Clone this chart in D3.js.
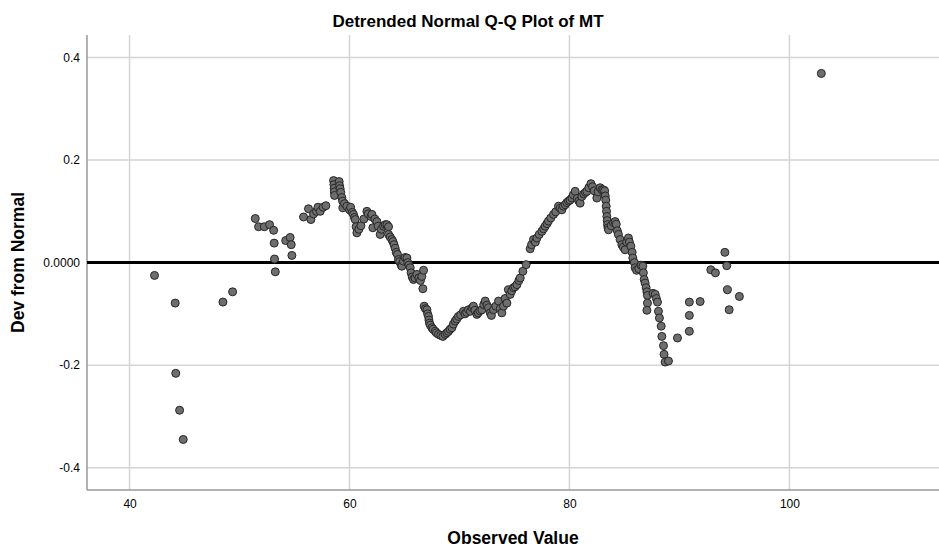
<!DOCTYPE html>
<html>
<head>
<meta charset="utf-8">
<script src="https://cdn.jsdelivr.net/npm/d3@7"></script>
<style>
  body { margin: 0; background: #fff; }
  text { font-family: "Liberation Sans", Arial, sans-serif; fill: #000; }
</style>
</head>
<body>
<div id="chart"></div>
<script>
var title = 'Detrended Normal Q-Q Plot of MT',
    xTitle = 'Observed Value',
    yTitle = 'Dev from Normal',
    xTicks = [40, 60, 80, 100],
    yTicks = [0.4, 0.2, 0, -0.2, -0.4],
    yTickLabels = ['0.4', '0.2', '0.0000', '-0.2', '-0.4'];

var observed = [
  42.27, 44.15, 44.2, 44.55, 44.88, 48.49, 49.37, 51.43, 51.73, 52.25,
  52.73, 53.1, 53.15, 53.18, 53.25, 54.2, 54.6, 54.7, 54.76, 55.82,
  56.27, 56.49, 56.73, 57.0, 57.13, 57.34, 57.6, 57.85, 58.55, 58.58,
  58.6, 58.62, 58.64, 59.06, 59.1, 59.15, 59.2, 59.3, 59.37, 59.4,
  59.55, 59.76, 60.0, 60.1, 60.25, 60.36, 60.45, 60.52, 60.6, 60.67,
  60.85, 61.04, 61.3, 61.58, 61.7, 61.95, 62.04, 62.12, 62.3, 62.49,
  62.6, 62.79, 62.9, 63.09, 63.25, 63.4, 63.55, 63.55, 63.7, 63.85,
  63.95, 64.05, 64.15, 64.25, 64.36, 64.45, 64.55, 64.7, 64.76, 64.9,
  65.05, 65.22, 65.3, 65.4, 65.52, 65.6, 65.7, 65.82, 65.95, 66.13,
  66.3, 66.45, 66.58, 66.73, 66.67, 66.79, 66.9, 67.04, 67.1, 67.18,
  67.22, 67.27, 67.35, 67.49, 67.6, 67.79, 67.9, 68.09, 68.3, 68.49,
  68.7, 68.85, 69.0, 69.15, 69.31, 69.45, 69.61, 69.75, 69.9, 70.1,
  70.36, 70.5, 70.65, 70.82, 71.0, 71.15, 71.27, 71.4, 71.58, 71.7,
  71.85, 72.04, 72.2, 72.34, 72.5, 72.64, 72.8, 72.9, 73.09, 73.3,
  73.55, 73.7, 73.85, 74.0, 74.15, 74.31, 74.45, 74.61, 74.75, 74.91,
  75.05, 75.22, 75.4, 75.52, 75.76, 76.06, 76.43, 76.55, 76.73, 76.9,
  77.04, 77.25, 77.49, 77.65, 77.79, 77.95, 78.09, 78.3, 78.55, 78.75,
  79.0, 79.15, 79.31, 79.45, 79.61, 79.75, 79.91, 80.05, 80.22, 80.35,
  80.52, 80.7, 80.85, 80.97, 81.13, 81.3, 81.45, 81.58, 81.75, 81.95,
  82.1, 82.25, 82.49, 82.6, 82.79, 82.95, 83.09, 83.2, 83.25, 83.3,
  83.34, 83.37, 83.4, 83.43, 83.46, 83.5, 83.55, 83.8, 84.0, 84.15,
  84.25, 84.35, 84.45, 84.6, 84.76, 84.9, 85.06, 85.2, 85.36, 85.45,
  85.58, 85.7, 85.76, 85.9, 85.97, 86.1, 86.3, 86.5, 86.67, 86.72,
  86.79, 86.88, 86.97, 87.04, 87.09, 87.09, 87.04, 87.6, 87.79, 87.9,
  88.0, 88.09, 88.18, 88.34, 88.4, 88.55, 88.6, 88.7, 89.0, 89.82,
  90.9, 90.9, 90.9, 91.88, 92.85, 93.27, 94.13, 94.3, 94.36, 94.52,
  95.45, 102.9
];
var deviation = [
  -0.025, -0.079, -0.216, -0.288, -0.345, -0.077, -0.057, 0.086, 0.070, 0.070,
  0.074, 0.063, 0.038, 0.007, -0.018, 0.043, 0.049, 0.035, 0.014, 0.089,
  0.105, 0.084, 0.095, 0.100, 0.108, 0.100, 0.108, 0.111, 0.160, 0.152,
  0.145, 0.138, 0.131, 0.158, 0.150, 0.144, 0.137, 0.127, 0.120, 0.107,
  0.115, 0.110, 0.103, 0.108, 0.098, 0.094, 0.088, 0.084, 0.070, 0.058,
  0.065, 0.072, 0.085, 0.100, 0.095, 0.090, 0.094, 0.068, 0.085, 0.080,
  0.071, 0.055, 0.065, 0.071, 0.074, 0.074, 0.070, 0.055, 0.050, 0.045,
  0.041, 0.035, 0.028, 0.020, 0.016, 0.006, 0.002, -0.005, -0.007, 0.003,
  0.010, 0.009, 0.000, -0.005, -0.010, -0.020, -0.028, -0.033, -0.030, -0.023,
  -0.030, -0.035, -0.027, -0.015, -0.051, -0.085, -0.090, -0.092, -0.100, -0.105,
  -0.112, -0.118, -0.122, -0.127, -0.130, -0.134, -0.137, -0.140, -0.142, -0.144,
  -0.140, -0.137, -0.134, -0.130, -0.127, -0.120, -0.114, -0.110, -0.105, -0.102,
  -0.095, -0.100, -0.097, -0.092, -0.095, -0.088, -0.085, -0.093, -0.101, -0.098,
  -0.094, -0.092, -0.082, -0.075, -0.083, -0.088, -0.098, -0.103, -0.092, -0.085,
  -0.075, -0.090, -0.098, -0.085, -0.070, -0.079, -0.053, -0.062, -0.055, -0.049,
  -0.047, -0.043, -0.035, -0.030, -0.017, -0.004, 0.027, 0.035, 0.045, 0.040,
  0.048, 0.055, 0.061, 0.066, 0.071, 0.076, 0.081, 0.087, 0.094, 0.099,
  0.110, 0.106, 0.103, 0.110, 0.113, 0.117, 0.120, 0.122, 0.126, 0.132,
  0.139, 0.125, 0.120, 0.116, 0.129, 0.134, 0.137, 0.139, 0.146, 0.154,
  0.148, 0.140, 0.126, 0.138, 0.146, 0.142, 0.142, 0.140, 0.130, 0.122,
  0.110, 0.100, 0.090, 0.082, 0.074, 0.068, 0.064, 0.072, 0.078, 0.080,
  0.075, 0.062, 0.055, 0.045, 0.035, 0.030, 0.025, 0.040, 0.048, 0.040,
  0.032, 0.020, 0.009, 0.000, -0.010, -0.015, -0.012, -0.005, -0.007, -0.020,
  -0.033, -0.040, -0.049, -0.057, -0.064, -0.079, -0.093, -0.060, -0.062, -0.070,
  -0.077, -0.095, -0.108, -0.124, -0.144, -0.162, -0.179, -0.194, -0.192, -0.147,
  -0.077, -0.103, -0.134, -0.076, -0.014, -0.020, 0.020, -0.006, -0.053, -0.092,
  -0.066, 0.369
];

var width = 939, height = 552,
    margin = {top: 35, right: 0, bottom: 62, left: 87},
    plotW = width - margin.left - margin.right,
    plotH = height - margin.top - margin.bottom;

var x = d3.scaleLinear().domain([36.13, 113.6]).range([0, plotW]),
    y = d3.scaleLinear().domain([-0.4436, 0.444]).range([plotH, 0]);

var svg = d3.select('#chart').append('svg')
    .attr('width', width)
    .attr('height', height);

svg.append('text')
    .attr('x', 468)
    .attr('y', 27)
    .attr('text-anchor', 'middle')
    .style('font-size', '17px')
    .style('font-weight', 'bold')
    .text(title);

var g = svg.append('g').attr('transform', 'translate(' + margin.left + ',' + margin.top + ')');

// grid
g.selectAll('.vgrid').data(xTicks).enter().append('line')
    .attr('x1', function(d) { return x(d); })
    .attr('x2', function(d) { return x(d); })
    .attr('y1', 0).attr('y2', plotH)
    .attr('stroke', '#d4d4d4').attr('stroke-width', 1.5);
g.selectAll('.hgrid').data(yTicks.filter(function(d) { return d !== 0; })).enter().append('line')
    .attr('x1', 0).attr('x2', plotW)
    .attr('y1', function(d) { return y(d); })
    .attr('y2', function(d) { return y(d); })
    .attr('stroke', '#d4d4d4').attr('stroke-width', 1.5);

// axes (labels only, the frame is drawn by hand)
var xAxis = g.append('g').attr('transform', 'translate(0,' + plotH + ')')
    .call(d3.axisBottom(x).tickValues(xTicks).tickSize(0).tickPadding(9).tickFormat(d3.format('d')));
var yAxis = g.append('g')
    .call(d3.axisLeft(y).tickValues(yTicks).tickSize(0).tickPadding(7)
        .tickFormat(function(d, i) { return yTickLabels[i]; }));
[xAxis, yAxis].forEach(function(a) {
    a.select('.domain').remove();
    a.selectAll('text').style('font-size', '12px').style('font-family', '"Liberation Sans", Arial, sans-serif').attr('fill', '#000');
});

g.append('line').attr('x1', 0).attr('x2', 0).attr('y1', 0).attr('y2', plotH)
    .attr('stroke', '#999').attr('stroke-width', 1.5);
g.append('line').attr('x1', 0).attr('x2', plotW).attr('y1', plotH).attr('y2', plotH)
    .attr('stroke', '#999').attr('stroke-width', 1.5);

// reference line at zero
g.append('line')
    .attr('x1', 0).attr('x2', plotW)
    .attr('y1', y(0)).attr('y2', y(0))
    .attr('stroke', '#000').attr('stroke-width', 3);

g.selectAll('circle').data(observed).enter().append('circle')
    .attr('cx', function(d) { return x(d); })
    .attr('cy', function(d, i) { return y(deviation[i]); })
    .attr('r', 4)
    .attr('fill', '#6e6e6e')
    .attr('stroke', '#262626')
    .attr('stroke-width', 1);

svg.append('text')
    .attr('x', margin.left + plotW / 2)
    .attr('y', 544)
    .attr('text-anchor', 'middle')
    .style('font-size', '17.5px')
    .style('font-weight', 'bold')
    .text(xTitle);

svg.append('text')
    .attr('transform', 'translate(24,' + (margin.top + plotH / 2) + ') rotate(-90)')
    .attr('text-anchor', 'middle')
    .style('font-size', '17.5px')
    .style('font-weight', 'bold')
    .text(yTitle);
</script>
</body>
</html>
